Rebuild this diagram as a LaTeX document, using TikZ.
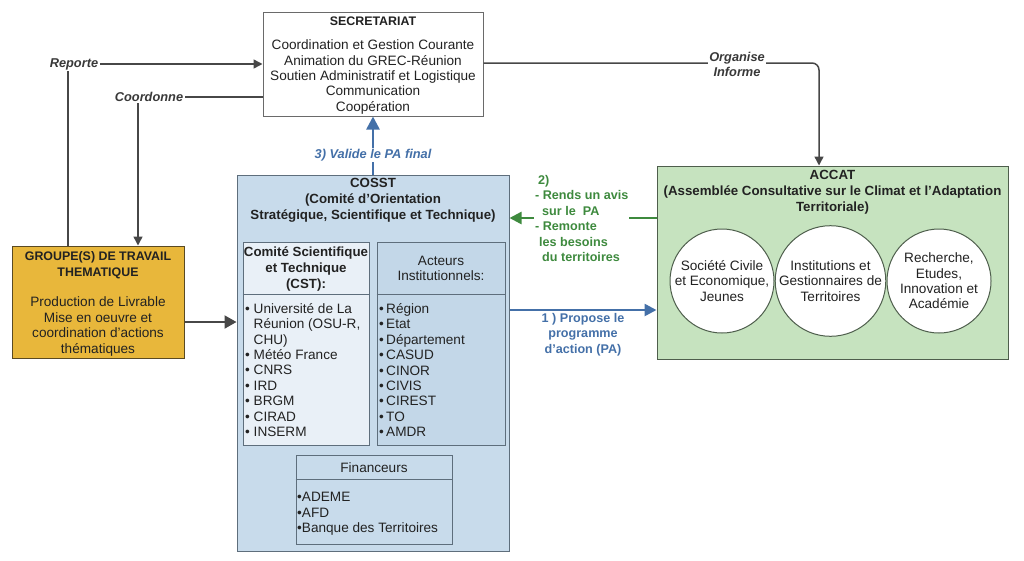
\documentclass[tikz,border=0pt]{standalone}
\usepackage{fontspec}
\setmainfont{Liberation Sans}
\usetikzlibrary{arrows.meta,calc}
\definecolor{lineg}{HTML}{474747}
\definecolor{secborder}{HTML}{6A6A6A}
\definecolor{cosstfill}{HTML}{C8DBEB}
\definecolor{cstfill}{HTML}{E9F0F7}
\definecolor{actfill}{HTML}{C3D7E8}
\definecolor{blueborder}{HTML}{5E6E7C}
\definecolor{gtfill}{HTML}{E8B73B}
\definecolor{gtborder}{HTML}{5A4A22}
\definecolor{accatfill}{HTML}{C6E3BF}
\definecolor{accatborder}{HTML}{4E5E4C}
\definecolor{grn}{HTML}{3E8A3E}
\definecolor{blu}{HTML}{4470A8}
\definecolor{txtc}{HTML}{222222}
\newcommand\fsreg{\fontsize{13.6}{15.4}\selectfont}
\newcommand\fsbold{\fontsize{13.3}{15.8}\selectfont\bfseries}
\newcommand\fscaps{\fontsize{12.4}{15.8}\selectfont\bfseries}
\newcommand\fslab{\fontsize{12.8}{15}\selectfont\bfseries\itshape}
\newcommand\fsgrn{\fontsize{12.6}{15.5}\selectfont\bfseries}
\begin{document}
\begin{tikzpicture}[x=1pt,y=-1pt,
  box/.style={draw=#1, line width=1pt, rectangle, inner sep=0pt},
  treg/.style={font=\fsreg, align=center, inner sep=0pt, text=txtc},
  tlist/.style={font=\fsreg, align=left, inner sep=0pt, anchor=west, text=txtc},
  tbold/.style={font=\fsbold, align=center, inner sep=0pt, text=txtc},
  tcaps/.style={font=\fscaps, align=center, inner sep=0pt, text=txtc},
  tlab/.style={font=\fslab, align=center, inner sep=1.5pt, fill=white, text=lineg!80!black},
  conn/.style={draw=lineg, line width=1.5pt},
  gtip/.style={-{Triangle[length=9pt,width=9pt]}},
  btip/.style={-{Triangle[length=12pt,width=13pt]}},
  circ/.style={circle, draw=accatborder, line width=1pt, fill=white, minimum size=104pt, inner sep=0pt, font=\fsreg, align=center, text=txtc}
]
\useasboundingbox (0,0) rectangle (1024,560);

% SECRETARIAT
\node[box=secborder, fill=white, minimum width=220pt, minimum height=104pt] (sec) at (373,64) {};
\node[tcaps] (sect) at (373,21) {SECRETARIAT};
\node[treg] (secb) at (373,77) {Coordination et Gestion Courante\\Animation du GREC-Réunion\\Soutien Administratif et Logistique\\Communication\\Coopération};

% COSST
\node[box=blueborder, fill=cosstfill, minimum width=272pt, minimum height=376pt] (cosst) at (373,363) {};
\node[tbold] (cosstt) at (373,200) {COSST\\(Comité d'Orientation\\Stratégique, Scientifique et Technique)};

% CST
\node[box=blueborder, fill=cstfill, minimum width=126pt, minimum height=203pt] (cst) at (306,343.5) {};
\coordinate (hy) at (0,294);
\draw[blueborder, line width=1pt] (cst.west |- hy) -- (cst.east |- hy);
\node[tbold] (cstt) at (306,269) {Comité Scientifique\\et Technique\\(CST):};
\node[tlist] (cstl) at (245,370) {• Université de La\\\hphantom{•} Réunion (OSU-R,\\\hphantom{•} CHU)\\• Météo France\\• CNRS\\• IRD\\• BRGM\\• CIRAD\\• INSERM};

% Acteurs
\node[box=blueborder, fill=actfill, minimum width=128pt, minimum height=203pt] (act) at (441,343.5) {};
\draw[blueborder, line width=1pt] (act.west |- hy) -- (act.east |- hy);
\node[treg] (actt) at (441,268.5) {Acteurs\\Institutionnels:};
\node[tlist] (actl) at (379,370) {•\,Région\\•\,Etat\\•\,Département\\•\,CASUD\\•\,CINOR\\•\,CIVIS\\•\,CIREST\\•\,TO\\•\,AMDR};

% Financeurs
\node[box=blueborder, fill=cosstfill, minimum width=156pt, minimum height=89pt] (fin) at (374,499.5) {};
\coordinate (fy) at (0,479);
\draw[blueborder, line width=1pt] (fin.west |- fy) -- (fin.east |- fy);
\node[treg] (fint) at (374,468) {Financeurs};
\node[tlist] (finl) at (297,514) {•ADEME\\•AFD\\•Banque des Territoires};

% GROUPE(S) DE TRAVAIL
\node[box=gtborder, fill=gtfill, minimum width=172pt, minimum height=112pt] (gt) at (98,302) {};
\node[tcaps] (gtt) at (98,265) {GROUPE(S) DE TRAVAIL\\THEMATIQUE};
\node[treg] (gtb) at (98,326.5) {Production de Livrable\\Mise en oeuvre et\\coordination d'actions\\thématiques};

% ACCAT
\node[box=accatborder, fill=accatfill, minimum width=351pt, minimum height=193pt] (accat) at (832.5,262.5) {};
\node[tbold] (accatt) at (832.5,192) {ACCAT\\(Assemblée Consultative sur le Climat et l'Adaptation\\Territoriale)};
\node[circ] (c1) at (722,281) {Société Civile\\et Economique,\\Jeunes};
\node[circ] (c2) at (830.5,281) {Institutions et\\Gestionnaires de\\Territoires};
\node[circ] (c3) at (939,281) {Recherche,\\Etudes,\\Innovation et\\Académie};

% Reporte
\coordinate (rp) at (68,64);
\draw[conn, gtip] (gt.north -| rp) -- (rp) -- (sec.west |- rp);
\node[tlab] (rpl) at (74,64) {Reporte};

% Coordonne
\coordinate (cd) at (138,97);
\draw[conn, gtip] (sec.west |- cd) -- (cd) -- (gt.north -| cd);
\node[tlab] (cdl) at (149,97) {Coordonne};

% Organise / Informe
\coordinate (og) at (819,63);
\draw[conn, gtip, rounded corners=7pt] (sec.east |- og) -- (og) -- (accat.north -| og);
\node[tlab] (ogl) at (737,64.5) {Organise\\Informe};

% 3) Valide
\draw[draw=blu, line width=2.5pt, -{Triangle[length=13pt,width=13pt]}] (cosst.north) -- (sec.south);
\node[tlab, text=blu] (val) at (373,155) {3) Valide le PA final};

% GT -> COSST
\coordinate (gc) at (0,322);
\draw[conn, line width=2pt, btip] (gt.east |- gc) -- (cosst.west |- gc);

% 2) ACCAT -> COSST (green)
\coordinate (ga) at (0,218);
\draw[draw=grn, line width=2.5pt, -{Triangle[length=12pt,width=12pt]}] (accat.west |- ga) -- (cosst.east |- ga);
\node[font=\fsgrn, text=grn, align=left, anchor=west, fill=white, inner sep=1pt] (grl) at (534,218.5) {\hspace{3pt}2)\\- Rends un avis\\\hspace{7pt}sur le\ \ PA\\- Remonte\\\hspace{4pt}les besoins\\\hspace{7pt}du territoires};

% 1) COSST -> ACCAT (blue)
\coordinate (ba) at (0,310);
\draw[draw=blu, line width=2.5pt, -{Triangle[length=12pt,width=12pt]}] (cosst.east |- ba) -- (accat.west |- ba);
\node[font=\fsgrn, text=blu, align=center, inner sep=0pt] (bal) at (583,334.5) {1 ) Propose le\\programme\\d'action (PA)};
\end{tikzpicture}
\end{document}
